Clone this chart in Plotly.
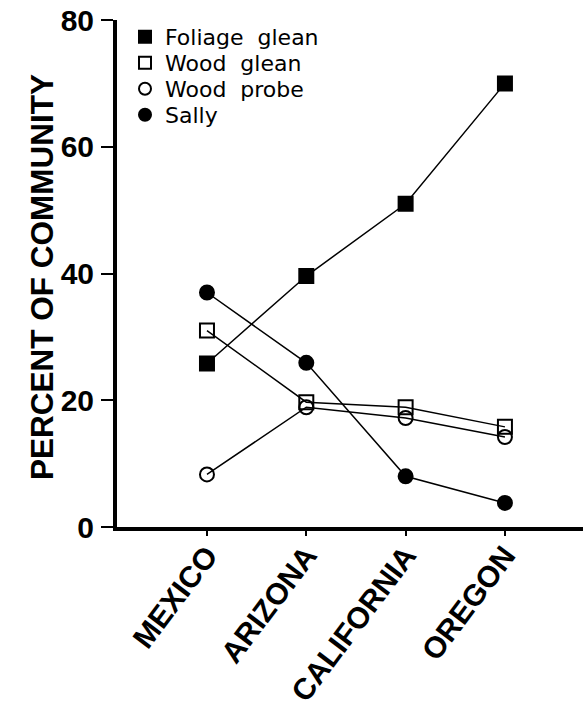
import plotly.graph_objects as go

regions = ["MEXICO", "ARIZONA", "CALIFORNIA", "OREGON"]
foliage_glean = [25.8, 39.6, 51.0, 70.0]
wood_glean = [31.0, 19.7, 18.9, 15.8]
wood_probe = [8.3, 18.9, 17.2, 14.2]
sally = [37.0, 25.9, 8.0, 3.8]

y_ticks = [0, 20, 40, 60, 80]

series_names = ["Foliage  glean", "Wood  glean", "Wood  probe", "Sally"]
series_values = [foliage_glean, wood_glean, wood_probe, sally]
symbols = ["square", "square-open", "circle-open", "circle"]

W, H = 583, 709
ML, MT, MB, MR = 117, 20, 182, 0
plot_h = H - MT - MB
plot_w = W - ML - MR

legend_centers = [37, 63, 89, 115]
legend_names = ["legend", "legend2", "legend3", "legend4"]

fig = go.Figure()
for i, (name, vals, sym) in enumerate(zip(series_names, series_values, symbols)):
    fig.add_trace(go.Scatter(
        x=regions, y=vals, name=name, mode="lines",
        line=dict(color="black", width=1.5),
        showlegend=False, cliponaxis=False,
    ))
    fig.add_trace(go.Scatter(
        x=regions, y=vals, name=name, mode="markers",
        marker=dict(symbol=sym, size=14, color="black",
                    line=dict(color="black", width=2)),
        legend=legend_names[i], cliponaxis=False,
    ))

layout_legends = {}
for i, ln in enumerate(legend_names):
    layout_legends[ln] = dict(
        x=8 / plot_w, y=(H - MB - legend_centers[i]) / plot_h,
        xanchor="left", yanchor="middle",
        font=dict(family="DejaVu Sans", size=22, color="black"),
        bgcolor="rgba(0,0,0,0)", itemsizing="constant",
    )

fig.update_layout(
    width=W, height=H,
    margin=dict(l=ML, r=MR, t=MT, b=MB, autoexpand=False),
    paper_bgcolor="white", plot_bgcolor="white",
    showlegend=True,
    font=dict(family="Liberation Sans", color="black"),
    **layout_legends,
)
fig.add_annotation(
    text="PERCENT OF COMMUNITY", textangle=-90,
    xref="paper", yref="paper",
    x=(42 - ML) / plot_w, y=(H - MB - 277) / plot_h,
    xanchor="center", yanchor="middle", showarrow=False,
    font=dict(family="Liberation Sans", size=31.5, color="black", weight="bold"),
)
fig.update_xaxes(
    type="category", range=[-0.906, 3.786],
    showline=True, linewidth=4, linecolor="black",
    ticks="outside", ticklen=5, tickwidth=2, tickcolor="black",
    tickangle=-53, ticklabelstandoff=-10,
    tickfont=dict(family="Liberation Sans", size=30, color="black", weight="bold"),
    showgrid=False, zeroline=False,
)
fig.update_yaxes(
    range=[0, 80], tickvals=y_ticks,
    showline=True, linewidth=4, linecolor="black",
    ticks="outside", ticklen=12, tickwidth=2, tickcolor="black",
    ticklabelstandoff=1, ticklabeloverflow="allow",
    tickfont=dict(family="Liberation Sans", size=30, color="black", weight="bold"),
    showgrid=False, zeroline=False,
)

fig.write_html("out.html", config={"displayModeBar": False},
               post_script="document.body.style.margin='0';")
